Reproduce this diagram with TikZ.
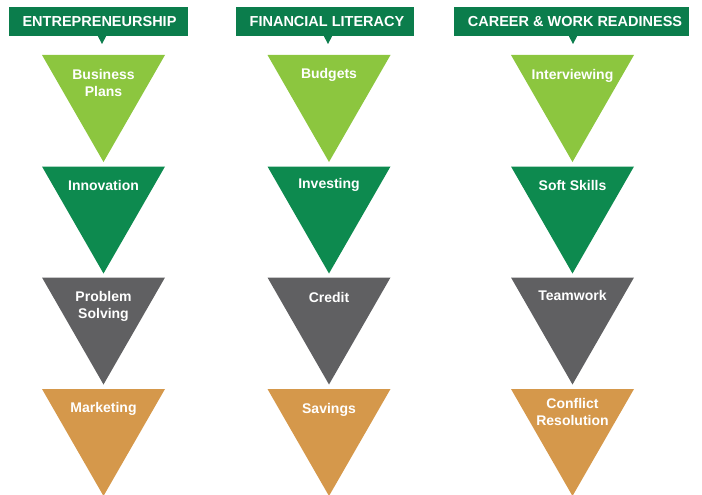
\documentclass[tikz,border=0pt]{standalone}
\usepackage{fontspec}
\setmainfont{Liberation Sans}
\definecolor{headgreen}{HTML}{0B7D4C}
\definecolor{lightgreen}{HTML}{8CC63F}
\definecolor{darkgreen}{HTML}{0D8A4F}
\definecolor{slategray}{HTML}{606062}
\definecolor{tan}{HTML}{D5984B}
\tikzset{
  headbox/.style={fill=headgreen, draw=none},
  headtext/.style={text=white, font=\fontsize{14.5}{17}\selectfont\bfseries, inner sep=0pt},
  tritext/.style={text=white, font=\fontsize{14}{17.5}\selectfont\bfseries, align=center, inner sep=0pt, anchor=north},
}
\begin{document}
\begin{tikzpicture}[x=1pt,y=-1pt]
\useasboundingbox (0,0) rectangle (702,495);
% headers
\foreach \xl/\xr/\nx/\tx/\name/\txt in {9/188/102/99.5/h1/ENTREPRENEURSHIP, 236/414/328/327/h2/FINANCIAL LITERACY, 454/689/573/575/h3/CAREER \& WORK READINESS}{
  \fill[headbox] (\xl,7) rectangle (\xr,36);
  \fill[headbox] (\nx-4.5,35.5) -- (\nx+4.5,35.5) -- (\nx,44) -- cycle;
  \node[headtext] (\name) at (\tx,21.5) {\txt};
}
% triangles
\newcommand{\tri}[4]{% center x, top y, colour, name
  \fill[#3] (#1-61.5,#2) -- (#1+61.5,#2) -- (#1,#2+107) -- cycle;
  \coordinate (#4) at (#1,#2);
}
\foreach \cx/\c in {103.5/a, 329/b, 572.5/c}{
  \tri{\cx}{55}{lightgreen}{\c1}
  \tri{\cx}{166.5}{darkgreen}{\c2}
  \tri{\cx}{277.5}{slategray}{\c3}
  \tri{\cx}{389}{tan}{\c4}
}
% labels
\node[tritext] (ta1) at ([yshift=-14]a1) {Business\\Plans};
\node[tritext] (ta2) at ([yshift=-125]a1) {Innovation};
\node[tritext] (ta3) at ([yshift=-236]a1) {Problem\\Solving};
\node[tritext] (ta4) at ([yshift=-347]a1) {Marketing};
\node[tritext] (tb1) at ([yshift=-13]b1) {Budgets};
\node[tritext] (tb2) at ([yshift=-123]b1) {Investing};
\node[tritext] (tb3) at ([yshift=-237]b1) {Credit};
\node[tritext] (tb4) at ([yshift=-348]b1) {Savings};
\node[tritext] (tc1) at ([yshift=-14]c1) {Interviewing};
\node[tritext] (tc2) at ([yshift=-125]c1) {Soft Skills};
\node[tritext] (tc3) at ([yshift=-235]c1) {Teamwork};
\node[tritext] (tc4) at ([yshift=-343]c1) {Conflict\\Resolution};
\end{tikzpicture}
\end{document}
